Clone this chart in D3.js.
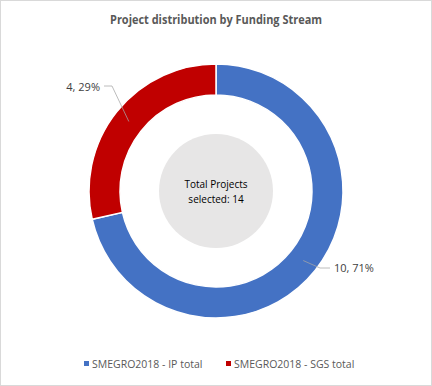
<!DOCTYPE html>
<html>
<head>
<meta charset="utf-8">
<script src="https://cdn.jsdelivr.net/npm/d3@7"></script>
<style>
  body { margin: 0; background: #fff; }
  svg { display: block; font-family: "Open Sans", "Liberation Sans", sans-serif; }
</style>
</head>
<body>
<svg id="chart" width="432" height="386"></svg>
<script>
"use strict";

var categories = ["SMEGRO2018 - IP total", "SMEGRO2018 - SGS total"],
    projectCounts = [10, 4],
    sliceColours = ["#4472c4", "#c00000"],
    title = "Project distribution by Funding Stream",
    centreLines = ["Total Projects", "selected: 14"],

    width = 432,
    height = 386,
    cx = 216,
    cy = 191,
    outerRadius = 127,
    innerRadius = 96,
    centreRadius = 57;

var svg = d3.select("#chart");

svg.append("rect")
    .attr("x", 0.5).attr("y", 0.5)
    .attr("width", width - 1).attr("height", height - 1)
    .attr("fill", "#fff")
    .attr("stroke", "#d9d9d9");

svg.append("text")
    .attr("x", width / 2)
    .attr("y", 24)
    .attr("text-anchor", "middle")
    .attr("font-size", 11.5)
    .attr("font-weight", "bold")
    .attr("fill", "#595959")
    .attr("textLength", 212)
    .attr("lengthAdjust", "spacingAndGlyphs")
    .text(title);

var total = d3.sum(projectCounts),
    slices = d3.pie().sort(null)(projectCounts),
    arc = d3.arc().innerRadius(innerRadius).outerRadius(outerRadius),
    g = svg.append("g").attr("transform", "translate(" + cx + "," + cy + ")");

g.selectAll("path.slice")
    .data(slices)
    .enter().append("path")
    .classed("slice", true)
    .attr("d", arc)
    .attr("fill", function(d, i) { return sliceColours[i]; })
    .attr("stroke", "#fff")
    .attr("stroke-width", 1.5);

g.append("circle")
    .attr("r", centreRadius)
    .attr("fill", "#e7e6e6");

g.selectAll("text.centre")
    .data(centreLines)
    .enter().append("text")
    .classed("centre", true)
    .attr("x", 0)
    .attr("y", function(d, i) { return -3 + i * 15; })
    .attr("text-anchor", "middle")
    .attr("font-size", 10)
    .attr("fill", "#000")
    .text(function(d) { return d; });

// data labels with leader lines (label spots picked by eye)
var labelPos = [
    { text: [334, 272], line: [[320, 268], [330, 268]], align: "start" },
    { text: [100, 91], line: [[104, 86], [112, 86]], align: "end" }
];

var midRadius = (innerRadius + outerRadius) / 2;
slices.forEach(function(s, i) {
    var a = (s.startAngle + s.endAngle) / 2,
        px = Math.sin(a) * midRadius,
        py = -Math.cos(a) * midRadius,
        lp = labelPos[i],
        pct = Math.round(s.value / total * 100);

    var pts = i === 0 ?
        [[px, py], [lp.line[0][0] - cx, lp.line[0][1] - cy], [lp.line[1][0] - cx, lp.line[1][1] - cy]] :
        [[px, py], [lp.line[1][0] - cx, lp.line[1][1] - cy], [lp.line[0][0] - cx, lp.line[0][1] - cy]];

    g.append("path")
        .attr("d", d3.line()(pts))
        .attr("fill", "none")
        .attr("stroke", "#a6a6a6")
        .attr("stroke-width", 0.75);

    svg.append("text")
        .attr("x", lp.text[0])
        .attr("y", lp.text[1])
        .attr("text-anchor", lp.align)
        .attr("font-size", 11)
        .attr("fill", "#404040")
        .text(s.value + ", " + pct + "%");
});

// legend
var legendX = [84, 226];
var legend = svg.selectAll("g.legend")
    .data(categories)
    .enter().append("g")
    .classed("legend", true)
    .attr("transform", function(d, i) { return "translate(" + legendX[i] + ",364)"; });

legend.append("rect")
    .attr("x", 0).attr("y", -3)
    .attr("width", 5).attr("height", 5)
    .attr("fill", function(d, i) { return sliceColours[i]; });

legend.append("text")
    .attr("x", 8)
    .attr("y", 3.5)
    .attr("font-size", 10.5)
    .attr("fill", "#595959")
    .text(function(d) { return d; });
</script>
</body>
</html>
